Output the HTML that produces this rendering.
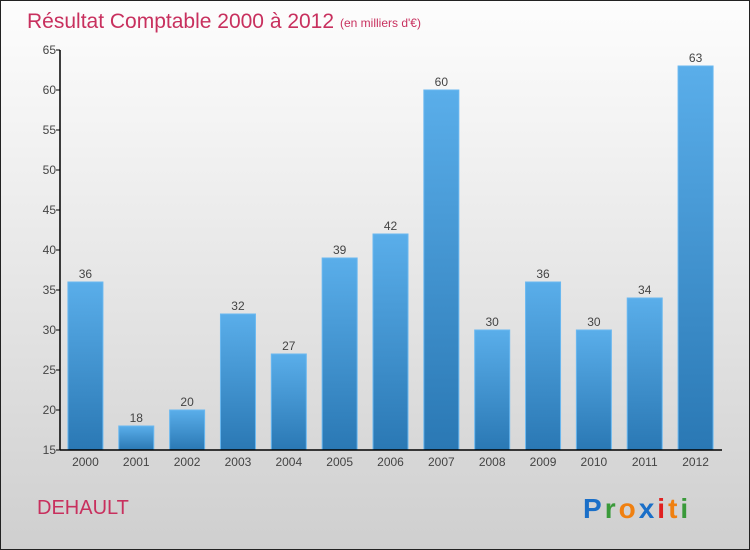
<!DOCTYPE html>
<html><head><meta charset="utf-8"><style>
body{margin:0}
#wrap{position:relative;width:748px;height:548px;border:1px solid #222;background:linear-gradient(#fdfdfd,#f0f0f0 30%,#cfcfcf);font-family:"Liberation Sans",sans-serif;overflow:hidden}
</style></head><body>
<div id="wrap">
<svg id="svg" width="748" height="548" style="position:absolute;left:0;top:0">
<defs><linearGradient id="bg" x1="0" y1="0" x2="0" y2="1"><stop offset="0" stop-color="#5aaeea"/><stop offset="1" stop-color="#2a78b4"/></linearGradient></defs>
<text x="26" y="27" font-size="21" fill="#c8305e">Résultat Comptable 2000 à 2012</text>
<text x="339" y="26" font-size="12" fill="#c8305e">(en milliers d'€)</text>
<text x="36" y="513" font-size="20" fill="#c8305e">DEHAULT</text>
<g font-size="28" font-weight="bold" font-family="Liberation Sans, sans-serif" letter-spacing="3">
<text x="582" y="517"><tspan fill="#1a6fc8">P</tspan><tspan fill="#3a9a3a">r</tspan><tspan fill="#f08010">o</tspan><tspan fill="#1a6fc8">x</tspan><tspan fill="#e02020">i</tspan><tspan fill="#f08010">t</tspan><tspan fill="#3a9a3a">i</tspan></text></g>
<g id="plot"></g>
</svg>
</div>
<script>
const years=["2000","2001","2002","2003","2004","2005","2006","2007","2008","2009","2010","2011","2012"];
const values=[36,18,20,32,27,39,42,60,30,36,30,34,63];
const yTicks=[15,20,25,30,35,40,45,50,55,60,65];
const NS="http://www.w3.org/2000/svg";
const g=document.getElementById('plot');
const x0=59,x1=720,yTop=49,yBot=449,vMin=15,vMax=65;
const band=(x1-x0)/years.length;
function y(v){return yBot-(v-vMin)/(vMax-vMin)*(yBot-yTop);}
function mk(t,a){const e=document.createElementNS(NS,t);for(const k in a)e.setAttribute(k,a[k]);g.appendChild(e);return e;}
years.forEach((yr,i)=>{
 const cx=x0+band*(i+0.5),w=35;
 const r=mk('rect',{x:cx-w/2,y:y(values[i]),width:w,height:yBot-y(values[i]),fill:'url(#bg)',stroke:'#6ab8f0','stroke-width':1});
 
 
 const l=mk('text',{x:cx,y:y(values[i])-4,'text-anchor':'middle','font-size':12,fill:'#444'});
 l.textContent=values[i];
 
 
 const t=mk('text',{x:cx,y:yBot+16,'text-anchor':'middle','font-size':12,fill:'#444'});
 t.textContent=yr;
 
 
});
yTicks.forEach(v=>{
 mk('line',{x1:x0-4,x2:x0,y1:y(v),y2:y(v),stroke:'#000'});
 const t=mk('text',{x:x0-4,y:y(v)+4,'text-anchor':'end','font-size':12,fill:'#444'});
 t.textContent=v;
 
 
});
const ya=mk('line',{x1:x0,x2:x0,y1:yTop,y2:yBot,stroke:'#000','stroke-width':1.5});


const xa=mk('line',{x1:x0,x2:x1+1,y1:yBot,y2:yBot,stroke:'#000','stroke-width':1.5});


</script>
</body></html>
